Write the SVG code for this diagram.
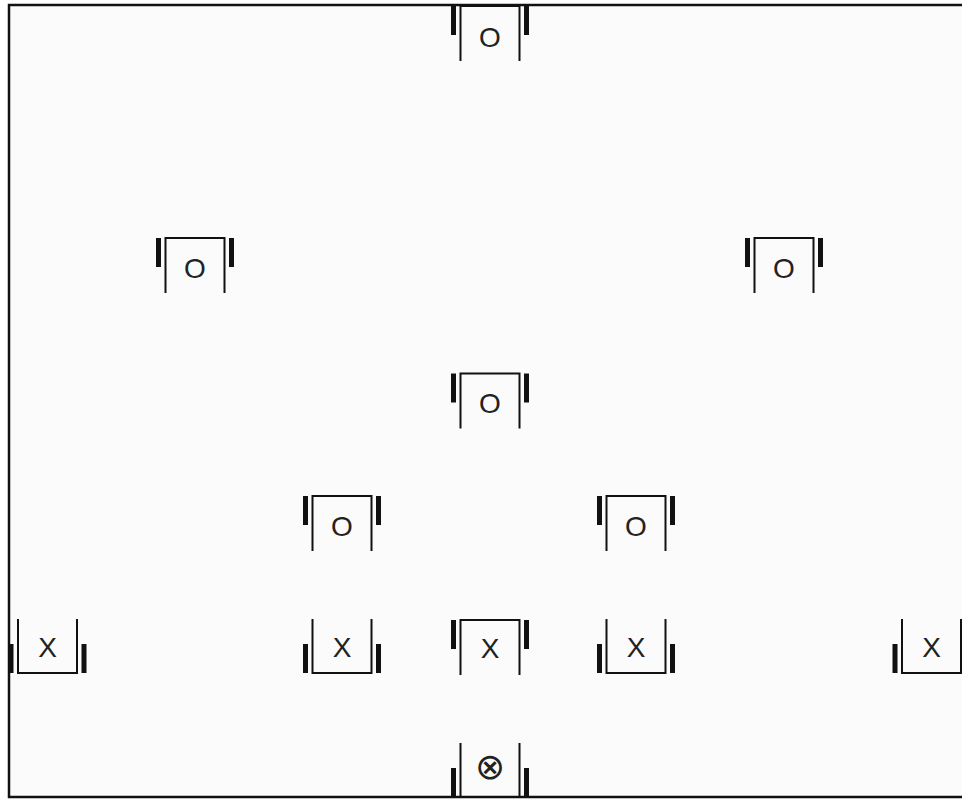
<svg xmlns="http://www.w3.org/2000/svg" xmlns:xlink="http://www.w3.org/1999/xlink" width="962" height="799" viewBox="0 0 962 799">
<style>
.frame{fill:#fbfbfb;stroke:#111;stroke-width:2.5}
.br{fill:none;stroke:#111;stroke-width:2;stroke-linejoin:miter;stroke-linecap:butt}
.tb{fill:#111;stroke:none}
.lbl{font-family:"Liberation Sans",Arial,sans-serif;font-size:28px;fill:#222;text-anchor:middle}
.sym{font-family:"DejaVu Sans",sans-serif;font-size:36px;fill:#222;text-anchor:middle}
</style>
<defs>
<g id="btop">
<path class="br" d="M-29.5,55 V0 H29.5 V55"/>
<rect class="tb" x="-39" y="0" width="5" height="29"/>
<rect class="tb" x="34" y="0" width="5" height="29"/>
</g>
<g id="bbot">
<path class="br" d="M-29.5,-54 V0 H29.5 V-54"/>
<rect class="tb" x="-39" y="-29" width="5" height="29"/>
<rect class="tb" x="34" y="-29" width="5" height="29"/>
</g>
</defs>
<rect class="frame" x="9" y="5" width="962" height="792"/>
<g id="n1"><use xlink:href="#btop" href="#btop" x="490" y="6"/><text class="lbl" x="490" y="47">O</text></g>
<g id="n2"><use xlink:href="#btop" href="#btop" x="195" y="238"/><text class="lbl" x="195" y="278">O</text></g>
<g id="n3"><use xlink:href="#btop" href="#btop" x="784" y="238"/><text class="lbl" x="784" y="278">O</text></g>
<g id="n4"><use xlink:href="#btop" href="#btop" x="490" y="373.5"/><text class="lbl" x="490" y="413">O</text></g>
<g id="n5"><use xlink:href="#btop" href="#btop" x="342" y="496"/><text class="lbl" x="342" y="536">O</text></g>
<g id="n6"><use xlink:href="#btop" href="#btop" x="636" y="496"/><text class="lbl" x="636" y="536">O</text></g>
<g id="n7"><use xlink:href="#bbot" href="#bbot" x="47.5" y="673"/><text class="lbl" x="47.5" y="657">X</text></g>
<g id="n8"><use xlink:href="#bbot" href="#bbot" x="342" y="673"/><text class="lbl" x="342" y="657">X</text></g>
<g id="n9"><use xlink:href="#btop" href="#btop" x="490" y="620"/><text class="lbl" x="490" y="658">X</text></g>
<g id="n10"><use xlink:href="#bbot" href="#bbot" x="636" y="673"/><text class="lbl" x="636" y="657">X</text></g>
<g id="n11"><use xlink:href="#bbot" href="#bbot" x="931.5" y="673"/><text class="lbl" x="931.5" y="657">X</text></g>
<g id="n12"><use xlink:href="#bbot" href="#bbot" x="490" y="797"/><text class="sym" x="490" y="779">⊗</text></g>
</svg>
